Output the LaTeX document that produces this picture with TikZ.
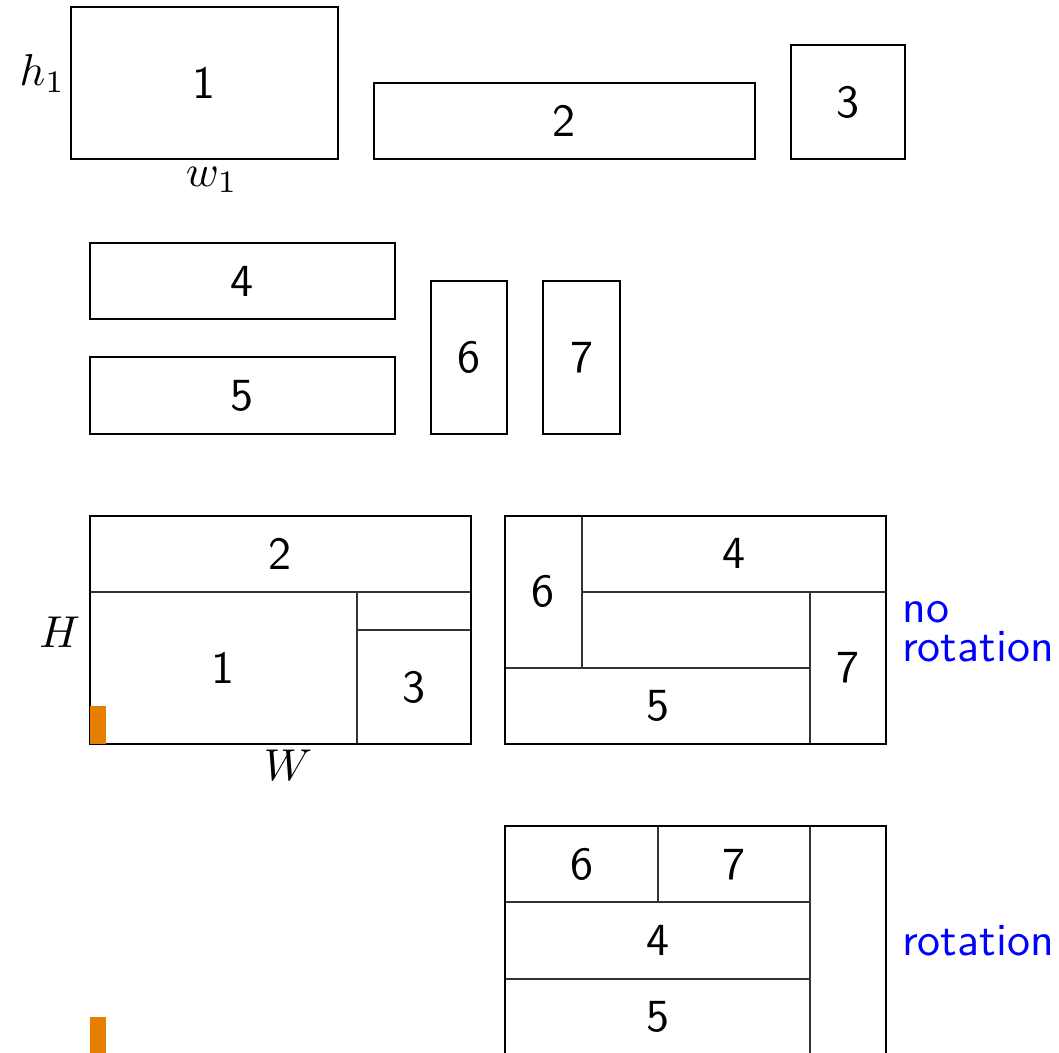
\documentclass[tikz,border=0pt]{standalone}
\usepackage{xcolor}
\usepackage{tikz}
\usetikzlibrary{positioning}
\definecolor{markorange}{RGB}{230,126,0}

\begin{document}
\begin{tikzpicture}[x=0.3cm, y=0.3cm, line width=0.45pt,
    font=\sffamily\fontsize{10.3}{12.4}\selectfont,
    cut/.style={draw=black!80}]
    \clip (-2.36,-8.08) rectangle (25.43,19.53);

    % items
    \draw (-0.5, 15.35) rectangle (6.5, 19.35);
    \node (i1) at (3, 17.35) {1};
    \node[left, inner sep=1pt] (h1) at (-0.5, 17.6) {$h_1$};
    \node[below, inner sep=1.5pt] (w1) at (3.2, 15.35) {$w_1$};
    \draw (7.45, 15.35) rectangle (17.45, 17.35);
    \node (i2) at (12.45, 16.35) {2};
    \draw (18.4, 15.35) rectangle (21.4, 18.35);
    \node (i3) at (19.9, 16.85) {3};

    \draw (0, 11.15) rectangle (8, 13.15);
    \node (i4) at (4, 12.15) {4};
    \draw (0, 8.15) rectangle (8, 10.15);
    \node (i5) at (4, 9.15) {5};
    \draw (8.95, 8.15) rectangle (10.95, 12.15);
    \node (i6) at (9.95, 10.15) {6};
    \draw (11.9, 8.15) rectangle (13.9, 12.15);
    \node (i7) at (12.9, 10.15) {7};

    % first packing
    \draw[cut] (0, 4) -- (10, 4);
    \draw[cut] (7, 0) -- (7, 4);
    \draw[cut] (7, 3) -- (10, 3);
    \draw (0, 0) rectangle (10, 6);
    \fill[markorange] (0, 0) rectangle (0.42, 1);
    \node (a2) at (5, 5) {2};
    \node (a1) at (3.5, 2) {1};
    \node (a3) at (8.5, 1.5) {3};
    \node[left, inner sep=2pt] (H) at (0, 2.95) {$H$};
    \node[below, inner sep=1pt] (W) at (5.2, 0) {$W$};

    % second packing
    \draw[cut] (12.9, 2) -- (12.9, 6);
    \draw[cut] (12.9, 4) -- (20.9, 4);
    \draw[cut] (10.9, 2) -- (18.9, 2);
    \draw[cut] (18.9, 0) -- (18.9, 4);
    \draw (10.9, 0) rectangle (20.9, 6);
    \node (b6) at (11.9, 4) {6};
    \node (b4) at (16.9, 5) {4};
    \node (b5) at (14.9, 1) {5};
    \node (b7) at (19.9, 2) {7};
    \node[anchor=west, align=left, text=blue] (norot) at (20.9, 2.95) {no\\[-3.8pt]rotation};

    % with rotation
    \draw[cut] (10.9, -4.15) -- (18.9, -4.15);
    \draw[cut] (10.9, -6.15) -- (18.9, -6.15);
    \draw[cut] (14.9, -4.15) -- (14.9, -2.15);
    \draw[cut] (18.9, -8.15) -- (18.9, -2.15);
    \draw (10.9, -8.15) rectangle (20.9, -2.15);
    \node (c6) at (12.9, -3.15) {6};
    \node (c7) at (16.9, -3.15) {7};
    \node (c4) at (14.9, -5.15) {4};
    \node (c5) at (14.9, -7.15) {5};
    \node[anchor=west, text=blue] (rot) at (20.9, -5.15) {rotation};
    \fill[markorange] (0, -8.15) rectangle (0.42, -7.15);
\end{tikzpicture}
\end{document}
